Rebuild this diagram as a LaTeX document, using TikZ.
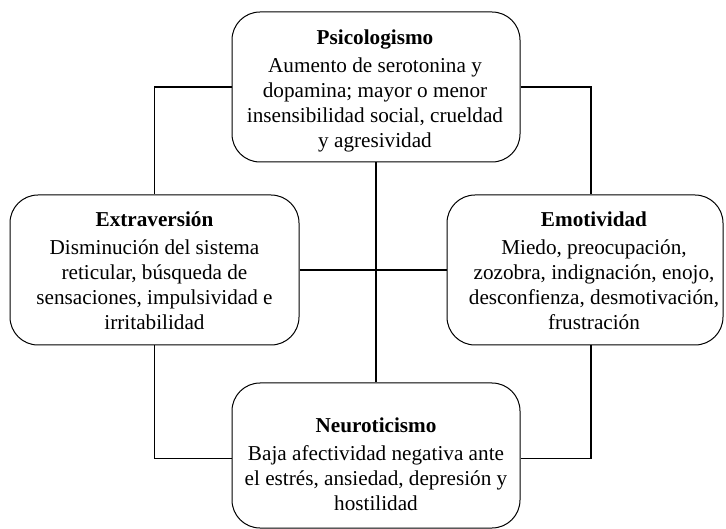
\documentclass[tikz,border=0pt]{standalone}
\usepackage{fontspec}
\setmainfont{Liberation Serif}
\begin{document}
\begin{tikzpicture}[x=1pt,y=-1pt,
  box/.style={draw, line width=1pt, rounded corners=28pt, inner sep=0pt},
  txt/.style={align=center, inner sep=0pt, font=\fontsize{21.2}{25}\selectfont, anchor=north},
  link/.style={line width=1.6pt}]
\useasboundingbox (0,0) rectangle (726,529);
\node[box, minimum width=288, minimum height=150] (P) at (376,87) {};
\node[box, minimum width=289, minimum height=150] (E) at (154.5,270) {};
\node[box, minimum width=276, minimum height=150] (M) at (585,270) {};
\node[box, minimum width=288, minimum height=145] (N) at (376,455.5) {};
\node[txt] (Pt) at (375,30) {\textbf{Psicologismo}\\[3pt]Aumento de serotonina y\\dopamina; mayor o menor\\insensibilidad social, crueldad\\y agresividad};
\node[txt] (Et) at (154.5,212) {\textbf{Extraversión}\\[3pt]Disminución del sistema\\reticular, búsqueda de\\sensaciones, impulsividad e\\irritabilidad};
\node[txt] (Mt) at (594,212) {\textbf{Emotividad}\\[3pt]Miedo, preocupación,\\zozobra, indignación, enojo,\\desconfienza, desmotivación,\\frustración};
\node[txt] (Nt) at (376,418) {\textbf{Neuroticismo}\\[3pt]Baja afectividad negativa ante\\el estrés, ansiedad, depresión y\\hostilidad};
\draw[link] (P.west) -| (E.north);
\draw[link] (P.east) -| ([xshift=6pt]M.north);
\draw[link] (E.south) |- ([yshift=-3pt]N.west);
\draw[link] ([xshift=6pt]M.south) |- ([yshift=-3pt]N.east);
\draw[link] (P.south) -- (N.north);
\draw[link] (E.east) -- (M.west);
\end{tikzpicture}
\end{document}
